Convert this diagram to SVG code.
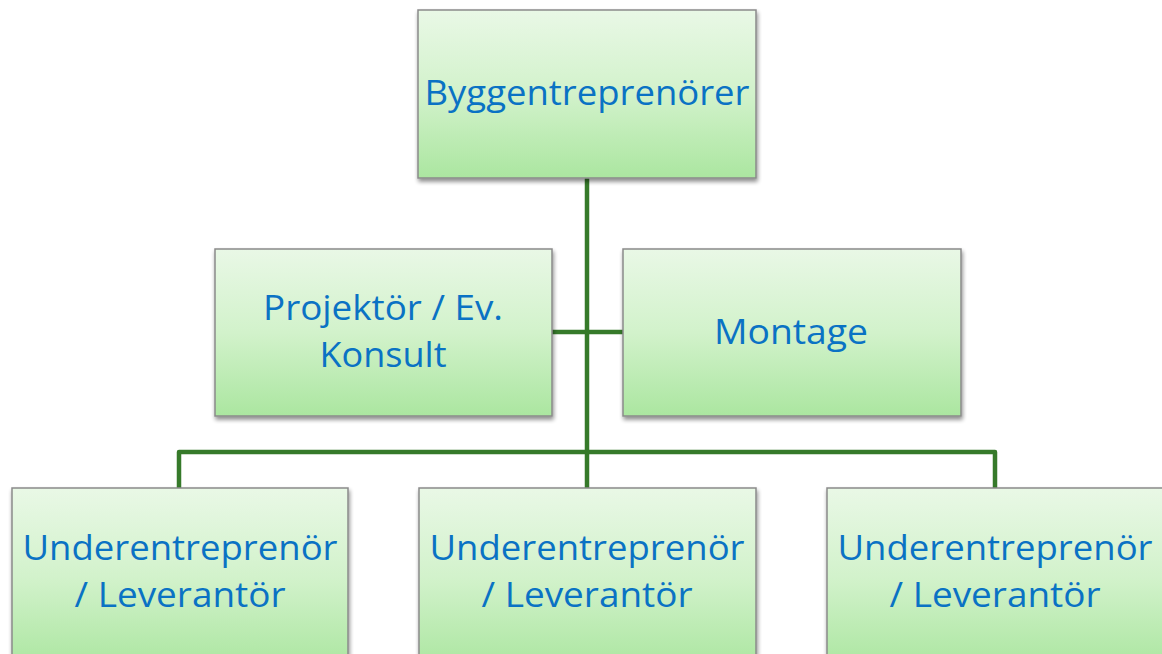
<svg xmlns="http://www.w3.org/2000/svg" width="1162" height="654" viewBox="0 0 1162 654">
  <defs>
    <linearGradient id="boxFill" x1="0" y1="0" x2="0" y2="1">
      <stop offset="0" stop-color="#e9f8e6"/>
      <stop offset="0.5" stop-color="#d2f2cb"/>
      <stop offset="1" stop-color="#abe6a0"/>
    </linearGradient>
    <filter id="shadow" x="-5%" y="-5%" width="112%" height="115%">
      <feGaussianBlur in="SourceAlpha" stdDeviation="2"/>
      <feOffset dx="1" dy="3" result="b"/>
      <feComponentTransfer><feFuncA type="linear" slope="0.45"/></feComponentTransfer>
      <feMerge><feMergeNode/><feMergeNode in="SourceGraphic"/></feMerge>
    </filter>
  </defs>
  <style>
    .box { fill: url(#boxFill); stroke: #8a8a8a; stroke-width: 1.5; filter: url(#shadow); }
    .lbl { font-family: "Open Sans", "Noto Sans", "Liberation Sans", sans-serif; font-size: 34px; fill: #0a72c4; text-anchor: middle; }
    .wire { fill: none; stroke: #367a2a; stroke-width: 4.5; stroke-linejoin: round; }
  </style>
  <rect width="1162" height="654" fill="#ffffff"/>

  <g id="connectors">
    <line class="wire" x1="587" y1="178" x2="587" y2="489"/>
    <line class="wire" x1="552" y1="332" x2="623" y2="332"/>
    <path class="wire" d="M179 489 V452 H995 V489"/>
  </g>

  <g id="node-byggentreprenorer">
    <rect class="box" x="418" y="10" width="338" height="168"/>
    <text class="lbl" x="587" y="105" textLength="325" lengthAdjust="spacingAndGlyphs">Byggentreprenörer</text>
  </g>

  <g id="node-projektor">
    <rect class="box" x="215" y="249" width="337" height="167"/>
    <text class="lbl" x="383" y="320" textLength="240" lengthAdjust="spacingAndGlyphs">Projektör / Ev.</text>
    <text class="lbl" x="383" y="367" textLength="127" lengthAdjust="spacingAndGlyphs">Konsult</text>
  </g>

  <g id="node-montage">
    <rect class="box" x="623" y="249" width="338" height="167"/>
    <text class="lbl" x="791" y="344" textLength="154" lengthAdjust="spacingAndGlyphs">Montage</text>
  </g>

  <g id="node-ue-1">
    <rect class="box" x="12" y="488" width="336" height="180"/>
    <text class="lbl" x="180" y="560" textLength="315" lengthAdjust="spacingAndGlyphs">Underentreprenör</text>
    <text class="lbl" x="180" y="607" textLength="211" lengthAdjust="spacingAndGlyphs">/ Leverantör</text>
  </g>

  <g id="node-ue-2">
    <rect class="box" x="419" y="488" width="337" height="180"/>
    <text class="lbl" x="587" y="560" textLength="315" lengthAdjust="spacingAndGlyphs">Underentreprenör</text>
    <text class="lbl" x="587" y="607" textLength="211" lengthAdjust="spacingAndGlyphs">/ Leverantör</text>
  </g>

  <g id="node-ue-3">
    <rect class="box" x="827" y="488" width="337" height="180"/>
    <text class="lbl" x="995" y="560" textLength="315" lengthAdjust="spacingAndGlyphs">Underentreprenör</text>
    <text class="lbl" x="995" y="607" textLength="211" lengthAdjust="spacingAndGlyphs">/ Leverantör</text>
  </g>
</svg>
